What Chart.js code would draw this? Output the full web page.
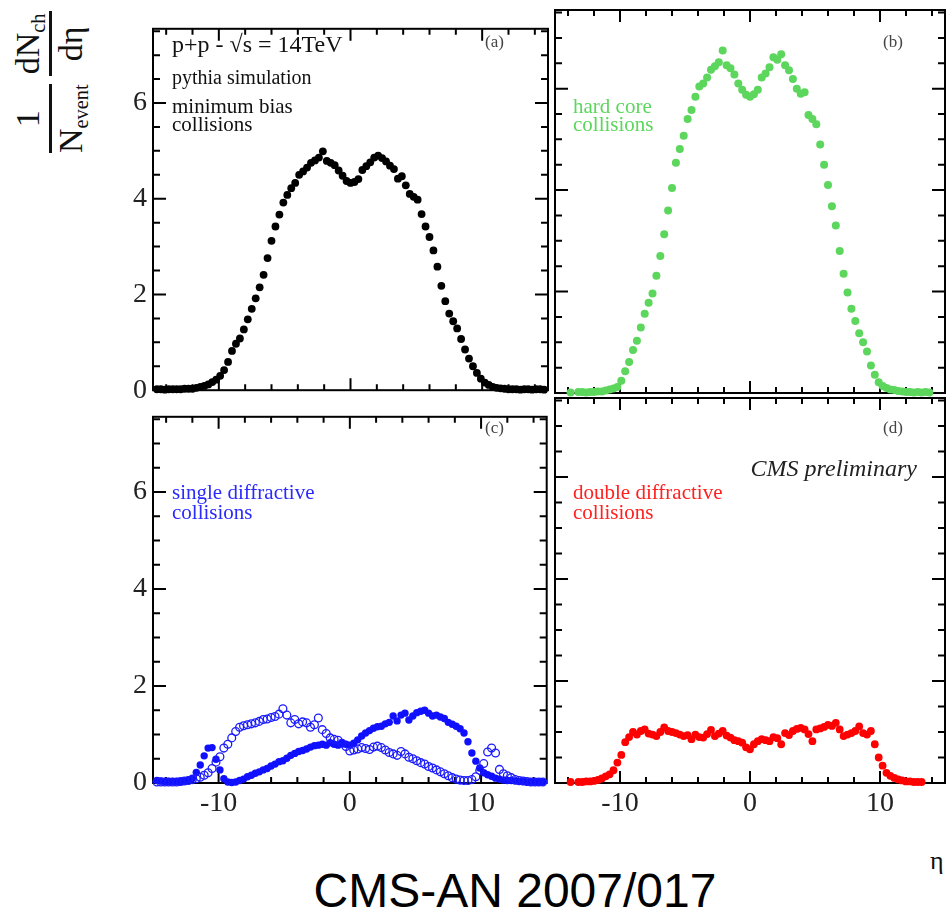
<!DOCTYPE html>
<html>
<head>
<meta charset="utf-8">
<title>dNch/deta, pythia, pp 14 TeV</title>
<script src="https://cdn.jsdelivr.net/npm/chart.js@4.4.1/dist/chart.umd.min.js"></script>
<style>
  body { margin: 0; background: #fff; }
  #page { position: relative; width: 950px; height: 912px; overflow: hidden; font-family: 'Liberation Serif', serif; }
  .box { position: absolute; }
  .note { position: absolute; white-space: nowrap; line-height: 1; }
  #ytitle { position: absolute; left: 11px; top: 153px; transform-origin: 0 0; transform: rotate(-90deg);
            display: flex; align-items: flex-start; gap: 8px; font-size: 34px; line-height: 1; white-space: nowrap; color: #111; }
  .frac { display: flex; flex-direction: column; align-items: stretch; text-align: center; }
  .num { border-bottom: 3px solid #111; padding: 0 2px 4px; }
  .den { padding-top: 2px; }
  #ytitle sub { font-size: 0.6em; vertical-align: -0.3em; line-height: 0; }
  #title { position: absolute; left: 215px; width: 600px; top: 867px; text-align: center;
           font-family: 'Liberation Sans', sans-serif; font-size: 48px; line-height: 1; color: #000; }
</style>
</head>
<body>
<div id="page">
  <div class="box"><canvas id="panelA"></canvas></div>
  <div class="box"><canvas id="panelB"></canvas></div>
  <div class="box"><canvas id="panelC"></canvas></div>
  <div class="box"><canvas id="panelD"></canvas></div>

  <div id="ytitle"><span class="frac"><span class="num">1</span><span class="den">N<sub>event</sub></span></span><span class="frac"><span class="num">dN<sub>ch</sub></span><span class="den">dη</span></span></div>

  <div class="note" style="left:172px;top:32px;font-size:24px;color:#111">p+p - √s = 14TeV</div>
  <div class="note" style="left:172px;top:67px;font-size:20px;color:#111">pythia simulation</div>
  <div class="note" style="left:172px;top:97px;font-size:21px;color:#111;line-height:18px">minimum bias<br>collisions</div>
  <div class="note" style="left:485px;top:33px;font-size:17px;color:#444">(a)</div>

  <div class="note" style="left:573px;top:97px;font-size:21px;color:#5cd65c;line-height:18px">hard core<br>collisions</div>
  <div class="note" style="left:883px;top:33px;font-size:17px;color:#444">(b)</div>

  <div class="note" style="left:172px;top:482px;font-size:21px;color:#2a2aff;line-height:20px">single diffractive<br>collisions</div>
  <div class="note" style="left:485px;top:419px;font-size:17px;color:#444">(c)</div>

  <div class="note" style="left:573px;top:482px;font-size:21px;color:#ff2020;line-height:20px">double diffractive<br>collisions</div>
  <div class="note" style="left:883px;top:419px;font-size:17px;color:#444">(d)</div>
  <div class="note" style="right:33px;top:456px;font-size:24px;font-style:italic;color:#222">CMS preliminary</div>

  <div class="note" style="left:930px;top:848px;font-size:26px;color:#111">η</div>
  <div id="title">CMS-AN 2007/017</div>
</div>

<script>
// pseudorapidity bin centres
const eta = [
  -14.7, -14.4, -14.1, -13.8, -13.5, -13.2, -12.9, -12.6, -12.3, -12.0,
  -11.7, -11.4, -11.1, -10.8, -10.5, -10.2, -9.9, -9.6, -9.3, -9.0,
  -8.7, -8.4, -8.1, -7.8, -7.5, -7.2, -6.9, -6.6, -6.3, -6.0,
  -5.7, -5.4, -5.1, -4.8, -4.5, -4.2, -3.9, -3.6, -3.3, -3.0,
  -2.7, -2.4, -2.1, -1.8, -1.5, -1.2, -0.9, -0.6, -0.3, 0.0,
  0.3, 0.6, 0.9, 1.2, 1.5, 1.8, 2.1, 2.4, 2.7, 3.0,
  3.3, 3.6, 3.9, 4.2, 4.5, 4.8, 5.1, 5.4, 5.7, 6.0,
  6.3, 6.6, 6.9, 7.2, 7.5, 7.8, 8.1, 8.4, 8.7, 9.0,
  9.3, 9.6, 9.9, 10.2, 10.5, 10.8, 11.1, 11.4, 11.7, 12.0,
  12.3, 12.6, 12.9, 13.2, 13.5, 13.8, 14.1, 14.4, 14.7
];

// (a) minimum bias
const minBias = [
  0.02, 0.02, 0.01, 0.02, 0.02, 0.02, 0.02, 0.03, 0.03, 0.03,
  0.05, 0.07, 0.09, 0.12, 0.17, 0.22, 0.30, 0.42, 0.59, 0.82,
  0.97, 1.08, 1.27, 1.48, 1.70, 1.92, 2.15, 2.41, 2.76, 3.12,
  3.42, 3.67, 3.92, 4.08, 4.22, 4.33, 4.50, 4.57, 4.65, 4.75,
  4.80, 4.86, 4.99, 4.79, 4.75, 4.70, 4.59, 4.48, 4.37, 4.33,
  4.35, 4.41, 4.60, 4.68, 4.76, 4.86, 4.90, 4.85, 4.78, 4.69,
  4.62, 4.42, 4.47, 4.28, 4.10, 4.04, 3.98, 3.68, 3.42, 3.20,
  2.92, 2.58, 2.18, 1.86, 1.60, 1.44, 1.29, 1.07, 0.85, 0.66,
  0.50, 0.36, 0.24, 0.16, 0.11, 0.07, 0.05, 0.04, 0.03, 0.02,
  0.02, 0.02, 0.01, 0.02, 0.02, 0.01, 0.02, 0.02, 0.01
];

// (b) hard core
const hardCore = [
  null, null, null, 0.01, null, 0.02, 0.02, 0.01, 0.02, 0.02,
  0.03, 0.03, 0.05, 0.07, 0.09, 0.12, 0.24, 0.43, 0.61, 0.85,
  1.03, 1.29, 1.56, 1.78, 1.96, 2.31, 2.70, 3.13, 3.60, 4.04,
  4.54, 4.81, 5.07, 5.40, 5.58, 5.84, 6.04, 6.10, 6.22, 6.37,
  6.44, 6.52, 6.75, 6.46, 6.40, 6.28, 6.10, 5.98, 5.88, 5.84,
  5.89, 5.98, 6.22, 6.30, 6.42, 6.62, 6.57, 6.68, 6.46, 6.36,
  6.19, 6.00, 5.90, 5.93, 5.48, 5.40, 5.30, 4.90, 4.50, 4.10,
  3.68, 3.30, 2.80, 2.35, 1.98, 1.66, 1.42, 1.18, 1.00, 0.82,
  0.54, 0.36, 0.21, 0.14, 0.10, 0.07, 0.06, 0.04, 0.03, 0.02,
  0.02, 0.01, 0.02, 0.01, 0.02, 0.01, null, null, null
];

// (c) single diffractive, filled markers
const singleDiffA = [
  0.05, 0.04, 0.03, 0.03, 0.03, 0.03, 0.03, 0.04, 0.06, 0.10,
  0.22, 0.37, 0.56, 0.72, 0.73, 0.49, 0.27, 0.09, 0.02, 0.01,
  0.02, 0.05, 0.08, 0.13, 0.16, 0.20, 0.23, 0.27, 0.30, 0.35,
  0.39, 0.44, 0.46, 0.51, 0.57, 0.61, 0.65, 0.67, 0.70, 0.74,
  0.77, 0.78, 0.80, 0.78, 0.83, 0.80, 0.78, 0.82, 0.80, 0.78,
  0.82, 0.89, 0.97, 1.03, 1.08, 1.13, 1.16, 1.17, 1.22, 1.25,
  1.38, 1.28, 1.40, 1.44, 1.30, 1.38, 1.45, 1.48, 1.50, 1.44,
  1.38, 1.40, 1.36, 1.33, 1.25, 1.21, 1.17, 1.12, 1.03, 0.85,
  0.62, 0.45, 0.31, 0.21, 0.17, 0.14, 0.10, 0.08, 0.06, 0.05,
  0.05, 0.04, 0.03, 0.03, 0.02, 0.02, 0.02, 0.02, 0.02
];

// (c) single diffractive, open markers
const singleDiffB = [
  0.02, 0.02, 0.02, 0.02, 0.02, 0.02, 0.03, 0.04, 0.05, 0.07,
  0.09, 0.12, 0.16, 0.21, 0.30, 0.43, 0.54, 0.72, 0.80, 0.93,
  1.06, 1.15, 1.18, 1.20, 1.22, 1.24, 1.27, 1.31, 1.32, 1.35,
  1.37, 1.42, 1.53, 1.40, 1.24, 1.31, 1.22, 1.26, 1.24, 1.15,
  1.20, 1.34, 1.10, 1.02, 0.93, 0.90, 0.88, 0.82, 0.75, 0.66,
  0.68, 0.70, 0.73, 0.71, 0.69, 0.74, 0.76, 0.73, 0.68, 0.63,
  0.60, 0.57, 0.65, 0.60, 0.53, 0.50, 0.46, 0.42, 0.39, 0.34,
  0.31, 0.27, 0.23, 0.19, 0.15, 0.11, 0.08, 0.06, 0.05, 0.05,
  0.07, 0.13, 0.26, 0.40, 0.64, 0.72, 0.62, 0.28, 0.19, 0.15,
  0.11, 0.07, 0.05, 0.04, 0.03, 0.02, 0.02, 0.02, 0.02
];

// (d) double diffractive
const doubleDiff = [
  null, null, null, 0.02, null, 0.02, 0.02, 0.03, 0.03, 0.04,
  0.06, 0.09, 0.13, 0.17, 0.25, 0.40, 0.55, 0.80, 0.90, 1.00,
  0.95, 1.02, 1.05, 0.97, 0.95, 0.92, 1.00, 1.09, 1.02, 1.00,
  0.98, 0.95, 0.92, 0.94, 0.86, 0.95, 0.90, 0.89, 0.96, 1.04,
  0.92, 0.97, 1.02, 0.93, 0.89, 0.84, 0.82, 0.79, 0.70, 0.66,
  0.76, 0.82, 0.86, 0.84, 0.82, 0.90, 0.88, 0.76, 0.98, 0.94,
  1.02, 1.06, 1.08, 1.05, 0.96, 0.82, 1.05, 1.07, 1.10, 1.14,
  1.12, 1.18, 1.05, 0.92, 0.95, 0.98, 1.02, 1.11, 0.98, 0.95,
  1.02, 0.76, 0.50, 0.34, 0.20, 0.14, 0.10, 0.07, 0.05, 0.03,
  0.03, 0.02, 0.02, 0.02, null, null, null, null, null
];

const xTickLabels = [-10, 0, 10];
const yTickLabels = [0, 2, 4, 6];
const xRange = [-15, 15];
const yRange = [0, 7.55];

const pts = vals => vals.map((v, i) => ({ x: eta[i], y: v })).filter(p => p.y !== null);

// frame with inward ticks on all four sides (ROOT style)
const frame = {
  id: 'frame',
  beforeDatasetsDraw(chart) {
    const { ctx, chartArea: a, scales: { x, y } } = chart;
    ctx.save();
    ctx.strokeStyle = '#000';
    ctx.lineWidth = 2;
    ctx.strokeRect(a.left, a.top, a.right - a.left, a.bottom - a.top);
    ctx.beginPath();
    for (let v = xRange[0] + 1; v < xRange[1]; v += 2) {
      const px = x.getPixelForValue(v);
      const len = xTickLabels.includes(v) ? 12 : 6;
      ctx.moveTo(px, a.bottom); ctx.lineTo(px, a.bottom - len);
      ctx.moveTo(px, a.top); ctx.lineTo(px, a.top + len);
    }
    for (let v = 0.5; v < yRange[1]; v += 0.5) {
      const py = y.getPixelForValue(v);
      const len = yTickLabels.includes(v) ? 13 : 7;
      ctx.moveTo(a.left, py); ctx.lineTo(a.left + len, py);
      ctx.moveTo(a.right, py); ctx.lineTo(a.right - len, py);
    }
    ctx.stroke();
    ctx.restore();
  }
};

const tickFont = { family: 'Liberation Serif', size: 28 };

function makePanel(id, area, showX, showY, datasets) {
  const padL = 2, padR = 4, padT = 4, padB = showX ? 4 : 20;
  const yW = showY ? 48 : 0, xH = showX ? 44 : 0;
  const canvas = document.getElementById(id);
  const wrap = canvas.parentNode;
  wrap.style.left = (area.left - padL - yW) + 'px';
  wrap.style.top = (area.top - padT) + 'px';
  wrap.style.width = (padL + yW + area.w + padR) + 'px';
  wrap.style.height = (padT + area.h + xH + padB) + 'px';

  new Chart(canvas, {
    type: 'scatter',
    data: { datasets },
    options: {
      responsive: true,
      maintainAspectRatio: false,
      animation: false,
      events: [],
      layout: { padding: { left: padL, right: padR, top: padT, bottom: padB } },
      plugins: { legend: { display: false }, tooltip: { enabled: false } },
      scales: {
        x: {
          type: 'linear', min: xRange[0], max: xRange[1], display: showX,
          grid: { display: false, drawTicks: false }, border: { display: false },
          afterBuildTicks: s => { s.ticks = xTickLabels.map(v => ({ value: v })); },
          afterFit: s => { s.height = xH; },
          ticks: { font: tickFont, color: '#222', padding: 4, maxRotation: 0, autoSkip: false }
        },
        y: {
          min: yRange[0], max: yRange[1], display: showY,
          grid: { display: false, drawTicks: false }, border: { display: false },
          afterBuildTicks: s => { s.ticks = yTickLabels.map(v => ({ value: v })); },
          afterFit: s => { s.width = yW; },
          ticks: { font: tickFont, color: '#222', padding: 6 }
        }
      }
    },
    plugins: [frame]
  });
}

function dots(vals, color, r) {
  return { data: pts(vals), showLine: false, clip: false, pointRadius: r,
           pointBackgroundColor: color, pointBorderColor: color, pointBorderWidth: 0 };
}

makePanel('panelA', { left: 153, top: 10, w: 395, h: 383 }, false, true,
  [dots(minBias, '#000', 3.9)]);
makePanel('panelB', { left: 553, top: 10, w: 392, h: 383 }, false, false,
  [dots(hardCore, '#5cd65c', 4.0)]);
makePanel('panelC', { left: 153, top: 398, w: 395, h: 385 }, true, true, [
  { data: pts(singleDiffB), showLine: false, clip: false, pointRadius: 3.9,
    pointBackgroundColor: 'rgba(0,0,0,0)', pointBorderColor: '#1a1aff', pointBorderWidth: 1.3 },
  dots(singleDiffA, '#1010ff', 3.7)
]);
makePanel('panelD', { left: 553, top: 398, w: 392, h: 385 }, true, false,
  [dots(doubleDiff, '#ff0000', 3.9)]);
</script>
</body>
</html>
